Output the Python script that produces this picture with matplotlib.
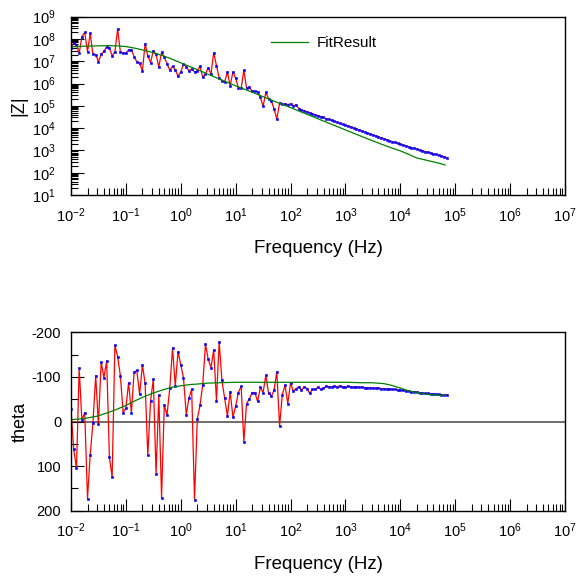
import numpy as np
import matplotlib
matplotlib.use("Agg")
import matplotlib.pyplot as plt
from matplotlib.ticker import LogLocator, MultipleLocator, NullFormatter

plt.rcParams['font.family'] = ['Liberation Sans', 'DejaVu Sans']
plt.rcParams['mathtext.fontset'] = 'custom'
plt.rcParams['mathtext.rm'] = 'Liberation Sans'
plt.rcParams['mathtext.it'] = 'Liberation Sans'
plt.rcParams['mathtext.bf'] = 'Liberation Sans'
plt.rcParams['axes.unicode_minus'] = False

# sweep: 20 points per decade starting at 10 mHz
mantissas = [1.00, 1.12, 1.26, 1.41, 1.58, 1.78, 2.00, 2.24, 2.51, 2.82,
             3.16, 3.55, 3.98, 4.47, 5.01, 5.62, 6.31, 7.08, 7.94, 8.91]
decades = [-2, -1, 0, 1, 2, 3, 4]
n_points = 138

# measured log10|Z|
logz = [7.60, 7.83, 7.73, 7.36, 8.10, 8.30, 7.43, 8.26, 7.31, 7.30,
        6.98, 7.31, 7.45, 7.65, 7.61, 7.24, 7.42, 8.45, 7.42, 7.36,
        7.36, 7.51, 7.52, 7.21, 6.98, 6.91, 6.57, 7.78, 7.25, 6.94,
        7.48, 7.31, 6.74, 7.40, 7.18, 6.89, 6.60, 6.77, 6.62, 6.33,
        6.52, 6.87, 6.76, 6.57, 6.65, 6.53, 6.55, 6.78, 6.28, 6.43,
        6.71, 6.43, 7.38, 6.80, 6.25, 6.12, 6.08, 6.52, 5.90, 6.52,
        6.24, 5.82, 5.78, 6.61, 5.79, 5.83, 5.66, 5.66, 5.64, 5.38,
        4.98, 5.60, 5.32, 5.23, 4.86, 4.41, 5.12,
        5.09, 5.08, 5.06, 5.09, 5.00, 5.05, 4.88, 4.82, 4.78, 4.73,
        4.69, 4.65, 4.60, 4.56, 4.52, 4.48, 4.43, 4.39, 4.35, 4.30,
        4.26, 4.22, 4.17, 4.13, 4.09, 4.05, 4.00, 3.96, 3.92, 3.87,
        3.83, 3.78, 3.74, 3.69, 3.65, 3.61, 3.57, 3.53, 3.49, 3.44,
        3.40, 3.36, 3.32, 3.28, 3.24, 3.20, 3.16, 3.13, 3.09, 3.06,
        3.02, 2.99, 2.95, 2.92, 2.89, 2.85, 2.82, 2.78, 2.75, 2.71, 2.68]

# measured phase (deg)
theta = [-29, 62, 105, -119, -3, -20, 173, 74, 3, -103,
         6, -134, -98, -136, 80, 125, -171, -145, -103, -20,
         -30, -87, -20, -110, -115, -61, -127, -86, 76, -46,
         -95, 118, -59, 171, -37, -15, -75, -165, -80, -157,
         -127, -98, -15, -53, -72, 175, -5, -36, -82, -173,
         -140, -121, -161, -47, -179, -92, -52, -12, -67, -10,
         -34, -65, -79, 45, -40, -51, -65, -65, -45, -77,
         -65, -104, -63, -57, -70, -112, 10, -60, -82, -40,
         -87, -68, -73, -78, -70, -78, -74, -63, -72, -72,
         -77, -72, -75, -79, -78, -78, -79, -78, -80,
         -78, -77, -79, -78, -77, -78, -77, -77, -76, -76,
         -76, -75, -75, -75, -74, -74, -73, -73, -72, -72,
         -71, -70, -70, -69, -68, -67, -67, -66, -65, -64,
         -63, -63, -62, -62, -61, -61, -60, -60, -60]

# fit result
fit_freq = [0.01, 0.015, 0.02, 0.03, 0.05, 0.07, 0.1, 0.15, 0.2, 0.3,
            0.5, 0.7, 1, 1.5, 2, 3, 5, 10, 20, 50,
            100, 200, 500, 1000, 2000, 3000, 5000, 7000, 10000, 15000,
            20000, 30000, 50000, 65000]
fit_logz = [7.65, 7.67, 7.68, 7.69, 7.70, 7.69, 7.66, 7.58, 7.51, 7.40,
            7.23, 7.09, 6.93, 6.75, 6.63, 6.44, 6.21, 5.90, 5.61, 5.21,
            4.92, 4.62, 4.22, 3.92, 3.62, 3.45, 3.24, 3.11, 2.98, 2.80,
            2.66, 2.56, 2.43, 2.35]
fit_theta = [-4, -6, -8, -12, -21, -28, -36, -47, -54, -63,
             -72, -77, -80, -83, -84, -86, -87, -88, -88, -88,
             -88, -88, -88, -88, -87, -87, -85, -81, -75, -68,
             -65, -61, -59, -59]

freq = np.array([m * 10.0 ** d for d in decades for m in mantissas][:n_points])
zmag = 10.0 ** np.array(logz)
fit_zmag = 10.0 ** np.array(fit_logz)

fig = plt.figure(figsize=(5.79, 5.79), dpi=100)
ax1 = fig.add_axes([0.1226, 0.6632, 0.8532, 0.308])
ax2 = fig.add_axes([0.1226, 0.118, 0.8532, 0.308])

##|Z| panel
ax1.plot(freq, zmag, color='red', lw=0.9, marker='s', ms=2.0,
         mfc='blue', mec='blue', mew=0.4)
ax1.plot(fit_freq, fit_zmag, color='green', lw=0.9, label='FitResult')
ax1.set_xscale('log')
ax1.set_yscale('log')
ax1.set_xlim(1e-2, 1e7)
ax1.set_ylim(1e1, 1e9)
ax1.yaxis.set_major_locator(LogLocator(base=10, numticks=20))
ax1.yaxis.set_minor_locator(LogLocator(base=10, subs=np.arange(2, 10), numticks=100))
ax1.yaxis.set_minor_formatter(NullFormatter())
ax1.set_ylabel('|Z|', fontsize=13)
ax1.yaxis.set_label_coords(-0.088, 0.5)
ax1.tick_params(axis='y', which='major', pad=11)
ax1.legend(loc='upper left', bbox_to_anchor=(0.405, 0.89), frameon=False,
           fontsize=11, handlelength=2.4, handletextpad=0.6,
           borderpad=0, borderaxespad=0)

##theta panel
ax2.plot(freq, theta, color='red', lw=0.9, marker='s', ms=2.0,
         mfc='blue', mec='blue', mew=0.4)
ax2.plot(fit_freq, fit_theta, color='green', lw=0.9)
ax2.axhline(0, color='#555555', lw=1.2, zorder=0)
ax2.set_xscale('log')
ax2.set_xlim(1e-2, 1e7)
ax2.set_ylim(200, -200)
ax2.yaxis.set_major_locator(MultipleLocator(100))
ax2.yaxis.set_minor_locator(MultipleLocator(50))
ax2.set_ylabel('theta', fontsize=13)
ax2.yaxis.set_label_coords(-0.085, 0.5)
ax2.tick_params(axis='y', which='major', pad=7)

for ax in (ax1, ax2):
    ax.xaxis.set_major_locator(LogLocator(base=10, numticks=20))
    ax.xaxis.set_minor_locator(LogLocator(base=10, subs=np.arange(2, 10), numticks=100))
    ax.xaxis.set_minor_formatter(NullFormatter())
    ax.set_xlabel('Frequency (Hz)', fontsize=13.5, labelpad=11)
    ax.tick_params(which='both', direction='in', top=False, right=False,
                   labelsize=10.5, width=0.8)
    ax.tick_params(axis='x', which='major', pad=8)
    ax.tick_params(which='major', length=9)
    ax.tick_params(which='minor', length=5)
    for s in ax.spines.values():
        s.set_linewidth(1.0)

plt.savefig('out.png', dpi=100)
